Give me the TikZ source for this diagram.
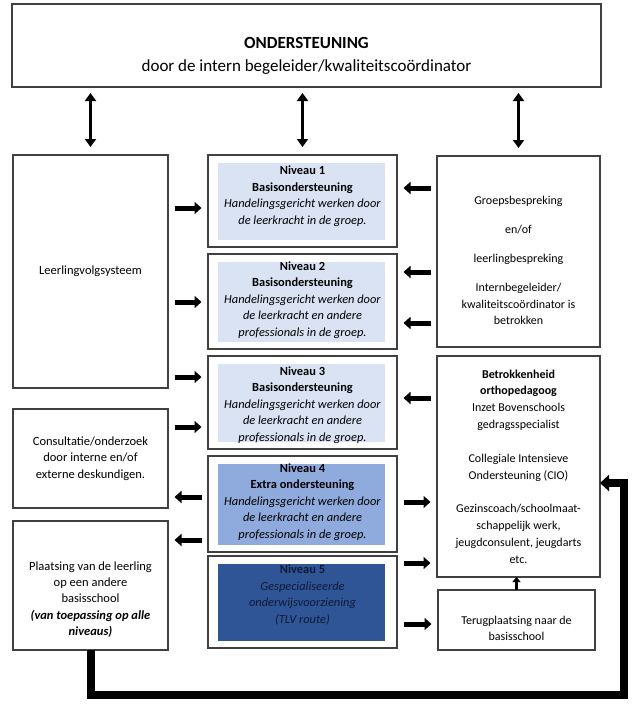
\documentclass[tikz,border=0pt]{standalone}
\usepackage{fontspec}
\setmainfont{Carlito}
\usepackage{tikz}
\usetikzlibrary{arrows.meta, positioning, calc}

\definecolor{lichtblauw}{HTML}{DAE3F3}
\definecolor{middenblauw}{HTML}{8FAADC}
\definecolor{donkerblauw}{HTML}{2F5597}
\definecolor{nachtblauw}{HTML}{0E1A33}
\definecolor{rand}{HTML}{404040}

\begin{document}
\begin{tikzpicture}[x=1pt, y=1pt, line join=miter,
        vak/.style={draw=rand, line width=1.2pt, inner sep=0pt, outer sep=0pt},
        tekst/.style={inner sep=0pt, align=center, font=\fontsize{12}{16.8}\selectfont},
        linkstekst/.style={tekst, font=\fontsize{12.5}{16.3}\selectfont},
        niveau/.style={vak, minimum width=189, path picture={
            \fill[#1] ([shift={(10,-8)}]path picture bounding box.north west)
                rectangle ([shift={(-12,7)}]path picture bounding box.south east);}},
        nivtekst/.style={inner sep=0pt, align=center, font=\fontsize{12.4}{16.5}\selectfont},
        pijl/.style={line width=5pt, -{Triangle[length=7pt,width=12pt]},
            shorten <=6.5pt, shorten >=6.5pt},
        dubbelpijl/.style={line width=3.8pt,
            {Triangle[length=8pt,width=11pt]}-{Triangle[length=8pt,width=11pt]},
            shorten <=6pt, shorten >=8pt},
        terugpijl/.style={line width=8pt, -{Triangle[length=9pt,width=16pt]}},
        kleinepijl/.style={line width=2.6pt, -{Triangle[length=5pt,width=8pt]}}]
    \useasboundingbox (0,0) rectangle (640,-707);

    % kaders
    \node[vak, minimum width=589, minimum height=83] (top) at (306.5,-45.5) {};
    \node[vak, minimum width=155, minimum height=233] (lvs) at (90.5,-271.5) {};
    \node[vak, minimum width=155, minimum height=99] (cons) at (90.5,-458.5) {};
    \node[vak, minimum width=155, minimum height=129] (plaats) at (90.5,-585.5) {};
    \node[niveau=lichtblauw, minimum height=92] (n1) at (302.5,-201) {};
    \node[niveau=lichtblauw, minimum height=95] (n2) at (302.5,-301.5) {};
    \node[niveau=lichtblauw, minimum height=93] (n3) at (302.5,-402.5) {};
    \node[niveau=middenblauw, minimum height=96] (n4) at (302.5,-504) {};
    \node[niveau=donkerblauw, minimum height=92] (n5) at (302.5,-602) {};
    \node[vak, minimum width=163, minimum height=191] (groep) at (518.5,-251.5) {};
    \node[vak, minimum width=163, minimum height=221] (betr) at (518.5,-466.5) {};
    \node[vak, minimum width=157, minimum height=60] (terug) at (516.5,-620) {};

    % teksten
    \node[tekst, font=\fontsize{17}{22.5}\selectfont] at ([yshift=-10.5]top.center)
        {\textbf{ONDERSTEUNING}\\door de intern begeleider/kwaliteitscoördinator};
    \node[linkstekst] at (lvs.center) {Leerlingvolgsysteem};
    \node[linkstekst] at (cons.center)
        {Consultatie/onderzoek\\door interne en/of\\externe deskundigen.};
    \node[linkstekst] at ([yshift=-14]plaats.center)
        {Plaatsing van de leerling\\op een andere\\basisschool\\\textbf{\textit{(van toepassing op alle}}\\\textbf{\textit{niveaus)}}};
    \node[nivtekst] at ([yshift=5]n1.center)
        {\textbf{Niveau 1}\\\textbf{Basisondersteuning}\\\textit{Handelingsgericht werken door}\\\textit{de leerkracht in de groep.}};
    \node[nivtekst] at ([yshift=1.5]n2.center)
        {\textbf{Niveau 2}\\\textbf{Basisondersteuning}\\\textit{Handelingsgericht werken door}\\\textit{de leerkracht en andere}\\\textit{professionals in de groep.}};
    \node[nivtekst] at ([yshift=-2.5]n3.center)
        {\textbf{Niveau 3}\\\textbf{Basisondersteuning}\\\textit{Handelingsgericht werken door}\\\textit{de leerkracht en andere}\\\textit{professionals in de groep.}};
    \node[nivtekst] at ([yshift=2]n4.center)
        {\textbf{Niveau 4}\\\textbf{Extra ondersteuning}\\\textit{Handelingsgericht werken door}\\\textit{de leerkracht en andere}\\\textit{professionals in de groep.}};
    \node[nivtekst, text=nachtblauw] at ([yshift=7]n5.center)
        {\textbf{Niveau 5}\\\textit{Gespecialiseerde}\\\textit{onderwijsvoorziening}\\\textit{(TLV route)}};
    \node[tekst, font=\fontsize{12}{16.5}\selectfont] at ([yshift=-9]groep.center)
        {Groepsbespreking\\[12.5pt]en/of\\[12.5pt]leerlingbespreking\\[12.5pt]Internbegeleider/\\kwaliteitscoördinator is\\betrokken};
    \node[tekst] at (betr.center)
        {\textbf{Betrokkenheid}\\\textbf{orthopedagoog}\\Inzet Bovenschools\\gedragsspecialist\\[17pt]Collegiale Intensieve\\Ondersteuning (CIO)\\[17pt]Gezinscoach/schoolmaat-\\schappelijk werk,\\jeugdconsulent, jeugdarts\\etc.};
    \node[tekst, font=\fontsize{12}{16.5}\selectfont] at ([yshift=-8.5]terug.center)
        {Terugplaatsing naar de\\basisschool};

    % pijlen
    \foreach \van in {lvs, n1, groep}
        \draw[dubbelpijl] (top.south -| \van.north) -- (\van.north);
    \foreach \van/\naar/\h in {lvs.east/n1.west/208, lvs.east/n2.west/302,
            lvs.east/n3.west/377, cons.east/n3.west/427,
            n4.west/cons.east/497, n4.west/plaats.east/540,
            groep.west/n1.east/188, groep.west/n2.east/272,
            groep.west/n2.east/323, betr.west/n3.east/398,
            n4.east/betr.west/502, n5.east/betr.west/563, n5.east/terug.west/624}
        \draw[pijl] (\van |- 0,-\h) -- (\naar |- 0,-\h);
    \draw[kleinepijl] (terug.north) -- (terug.north |- betr.south);
    \coordinate (hoek) at (624,-695);
    \draw[terugpijl] (plaats.south) |- (hoek) |- ([yshift=-16.5]betr.east);
\end{tikzpicture}
\end{document}
